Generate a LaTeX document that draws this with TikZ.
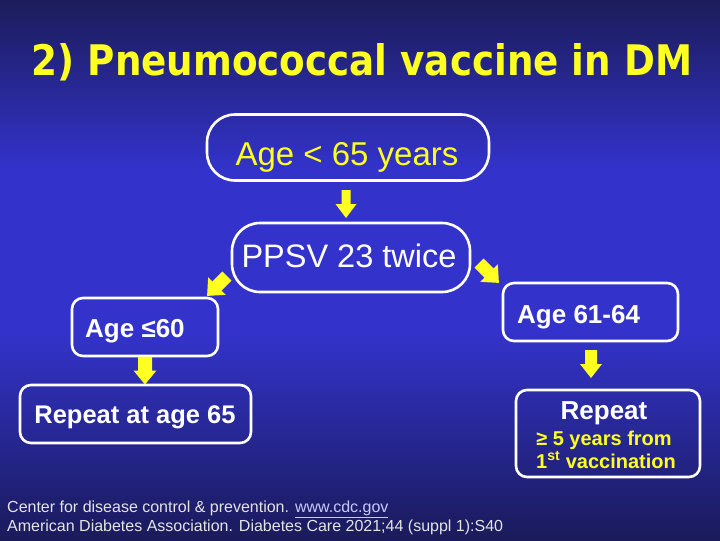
\documentclass[tikz,border=0pt]{standalone}
\usepackage{graphicx}
\usepackage{fontspec}
\setmainfont{Liberation Sans}
\newfontfamily\titlefont{DejaVu Sans}
\definecolor{bgtop}{HTML}{1C1C5C}
\definecolor{bgmid}{HTML}{3333CC}
\definecolor{bgbot}{HTML}{1A1A5A}
\definecolor{ylw}{HTML}{FFFF22}
\definecolor{foot}{HTML}{E4E4E4}
\definecolor{linkc}{HTML}{C8C8FF}
\begin{document}
\begin{tikzpicture}[x=1pt,y=-1pt,
  box/.style={draw=white, line width=2.6pt, inner sep=0pt},
  bigbox/.style={box, rounded corners=28pt},
  smallbox/.style={box, rounded corners=11pt},
  txt/.style={anchor=base, inner sep=0pt, text=white},
  pics/blockarrow/.style args={#1/#2}{code={
    \fill[ylw] (-#1,-14) -- (#1,-14) -- (#1,0) -- (#2,0) -- (0,14) -- (-#2,0) -- (-#1,0) -- cycle;}}
]
% background: vertical gradient drawn as bands
\foreach \i in {0,...,134} {
  \pgfmathsetmacro{\yy}{\i*4}
  \ifdim\yy pt<330pt
    \pgfmathsetmacro{\q}{min(100,(\yy/170)*100)}
    \fill[bgmid!\q!bgtop] (0,\yy) rectangle (720,\yy+4.6);
  \else
    \pgfmathsetmacro{\q}{max(0,((540-\yy)/210)*100)}
    \fill[bgmid!\q!bgbot] (0,\yy) rectangle (720,\yy+4.6);
  \fi
}
\useasboundingbox (0,0) rectangle (720,540);

% title
\node[anchor=base, inner sep=0pt, text=ylw] (title) at (362,75)
  {\resizebox{660pt}{32pt}{\titlefont\bfseries 2) Pneumococcal vaccine in DM}};

% boxes
\node[bigbox, minimum width=282pt, minimum height=66pt] (b1) at (348,147.5) {};
\node[txt, text=ylw, font=\fontsize{33}{38}\selectfont] (t1) at (347,165) {Age < 65 years};

\node[bigbox, minimum width=238pt, minimum height=69pt] (b2) at (351,257.5) {};
\node[txt, font=\fontsize{32.5}{38}\selectfont] (t2) at (349,267) {PPSV 23 twice};

\node[smallbox, minimum width=146pt, minimum height=58pt] (b3) at (145,327) {};
\node[txt, anchor=base west, font=\fontsize{26}{30}\selectfont\bfseries] (t3) at (85,337) {Age ≤60};

\node[smallbox, minimum width=175pt, minimum height=58pt] (b4) at (590.5,312) {};
\node[txt, anchor=base west, font=\fontsize{26}{30}\selectfont\bfseries] (t4) at (517,323) {Age 61-64};

\node[smallbox, minimum width=231pt, minimum height=58pt] (b5) at (135.5,414) {};
\node[txt, font=\fontsize{25.5}{30}\selectfont\bfseries] (t5) at (135,423) {Repeat at age 65};

\node[smallbox, minimum width=184pt, minimum height=87pt] (b6) at (608,433.5) {};
\node[txt, font=\fontsize{26}{30}\selectfont\bfseries] (t6a) at (604,419) {Repeat};
\node[txt, text=ylw, font=\fontsize{20}{24}\selectfont\bfseries] (t6b) at (604,445) {≥ 5 years from};
\node[txt, text=ylw, font=\fontsize{20}{24}\selectfont\bfseries] (t6c) at (606,468) {1\textsuperscript{st} vaccination};

% block arrows
\pic (a1) at (346,204) {blockarrow={4.5/10.5}};
\pic[rotate=-45] (a2) at (217,286) {blockarrow={6.5/12.5}};
\pic[rotate=45] (a3) at (489,273) {blockarrow={6.5/12.5}};
\pic (a4) at (145,370.5) {blockarrow={7/11.5}};
\pic (a5) at (591,364) {blockarrow={6/11}};

% footnote
\node[anchor=base west, inner sep=0pt, text=foot, font=\fontsize{16}{18}\selectfont] (f1) at (7,512)
  {Center for disease control \& prevention. \textcolor{linkc}{\underline{www.cdc.gov}}};
\node[anchor=base west, inner sep=0pt, text=foot, font=\fontsize{16}{18}\selectfont] (f2) at (7,531)
  {American Diabetes Association. Diabetes Care 2021;44 (suppl 1):S40};
\end{tikzpicture}
\end{document}
